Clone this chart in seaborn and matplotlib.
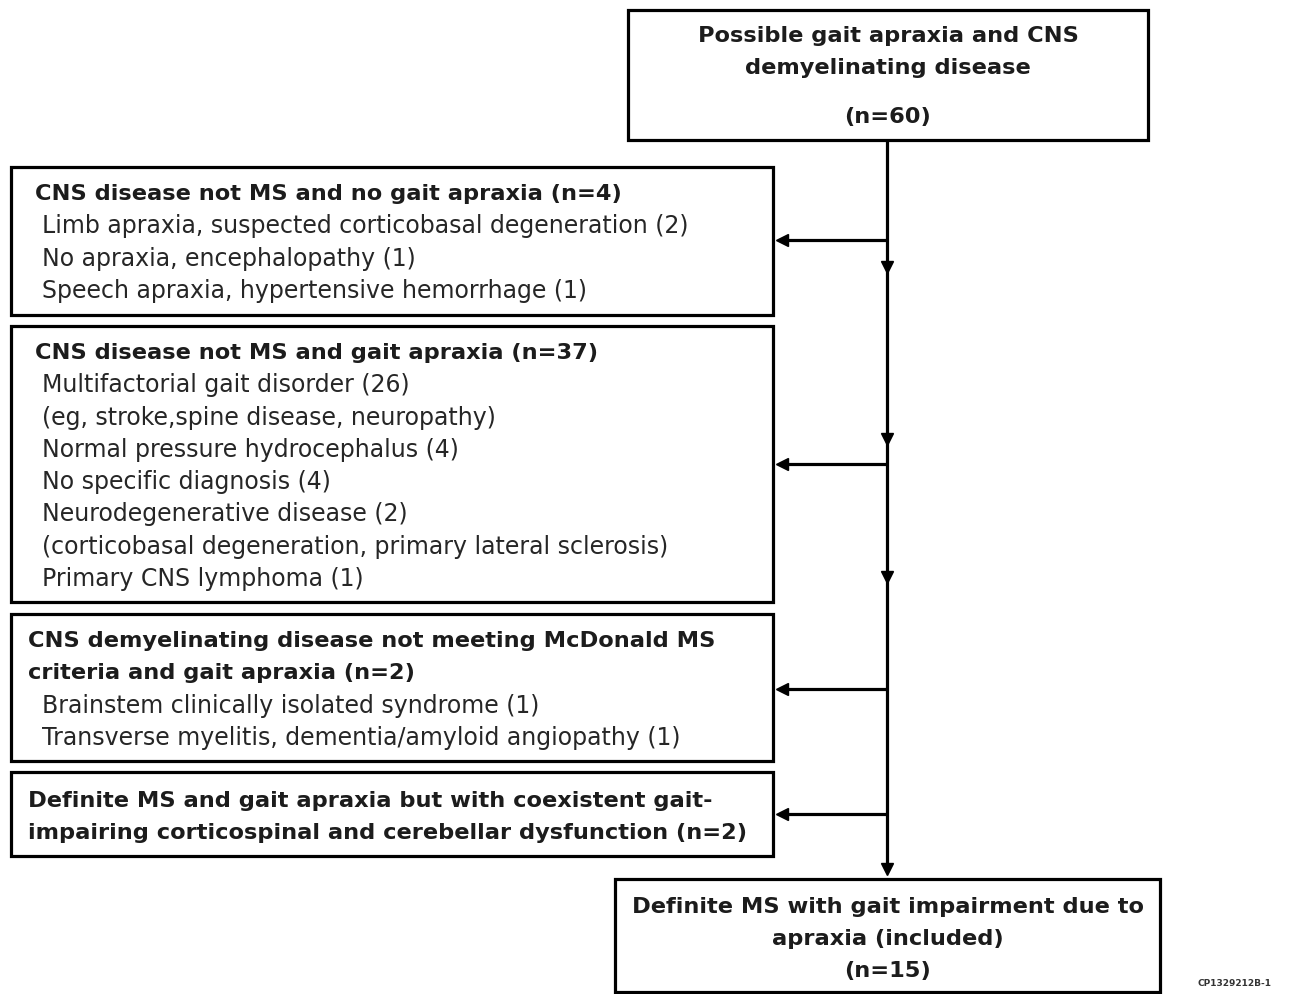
import matplotlib.pyplot as plt
import matplotlib.patches as mpatches
import seaborn as sns

sns.set_theme(style="white")
plt.rcParams['font.family'] = ['DejaVu Sans']

# flowchart content
top_lines = ["Possible gait apraxia and CNS", "demyelinating disease"]
top_n = 60
box1_title = ["CNS disease not MS and no gait apraxia (n=4)"]
box1_items = ["Limb apraxia, suspected corticobasal degeneration (2)",
              "No apraxia, encephalopathy (1)",
              "Speech apraxia, hypertensive hemorrhage (1)"]
box2_title = ["CNS disease not MS and gait apraxia (n=37)"]
box2_items = ["Multifactorial gait disorder (26)",
              "(eg, stroke,spine disease, neuropathy)",
              "Normal pressure hydrocephalus (4)",
              "No specific diagnosis (4)",
              "Neurodegenerative disease (2)",
              "(corticobasal degeneration, primary lateral sclerosis)",
              "Primary CNS lymphoma (1)"]
box3_title = ["CNS demyelinating disease not meeting McDonald MS",
              "criteria and gait apraxia (n=2)"]
box3_items = ["Brainstem clinically isolated syndrome (1)",
              "Transverse myelitis, dementia/amyloid angiopathy (1)"]
box4_title = ["Definite MS and gait apraxia but with coexistent gait-",
              "impairing corticospinal and cerebellar dysfunction (n=2)"]
box4_items = []
bottom_lines = ["Definite MS with gait impairment due to", "apraxia (included)"]
bottom_n = 15
code_label = "CP1329212B-1"

W, H = 1296, 995
fig = plt.figure(figsize=(W / 100, H / 100), dpi=100)
ax = fig.add_axes([0, 0, 1, 1])
ax.set_xlim(0, W)
ax.set_ylim(H, 0)
ax.axis('off')

LW = 2.3
FS = 17.0
FSB = 16.2
TXT = '#1c1c1c'


def rect(x0, y0, x1, y1):
    ax.add_patch(mpatches.Rectangle((x0, y0), x1 - x0, y1 - y0, fill=False,
                                    edgecolor='black', linewidth=LW, zorder=2))


# top box
rect(628, 11, 1148, 141)
ax.text(888, 36, top_lines[0], ha='center', va='center', fontsize=FSB, fontweight='bold', color=TXT)
ax.text(888, 68, top_lines[1], ha='center', va='center', fontsize=FSB, fontweight='bold', color=TXT)
ax.text(888, 117, f"(n={top_n})", ha='center', va='center', fontsize=FSB, fontweight='bold', color=TXT)

# side boxes
side_boxes = [
    (168, 316, box1_title, box1_items, 35, 194, 241),
    (327, 603, box2_title, box2_items, 35, 353, 465),
    (615, 762, box3_title, box3_items, 28, 641, 690),
    (773, 857, box4_title, box4_items, 28, 801, 815),
]
step = 32.3
for y0, y1, title, items, tx, ty, ay in side_boxes:
    rect(11, y0, 773, y1)
    y = ty
    for t in title:
        ax.text(tx, y, t, ha='left', va='center', fontsize=FSB, fontweight='bold', color=TXT)
        y += step
    for it in items:
        ax.text(42, y, it, ha='left', va='center', fontsize=FS, color='#262626')
        y += step
    # branch arrow to the box
    ax.plot([887, 781], [ay, ay], color='black', lw=LW, solid_capstyle='butt', zorder=3)
    ax.plot(782, ay, marker='<', ms=8, color='black', zorder=4)

# main trunk
ax.plot([887, 887], [141, 872], color='black', lw=LW, solid_capstyle='butt', zorder=3)
for yy in [268, 440, 578, 870]:
    ax.plot(887, yy, marker='v', ms=8, color='black', zorder=4)

# bottom box
rect(615, 880, 1160, 993)
ax.text(888, 907, bottom_lines[0], ha='center', va='center', fontsize=FSB, fontweight='bold', color=TXT)
ax.text(888, 939, bottom_lines[1], ha='center', va='center', fontsize=FSB, fontweight='bold', color=TXT)
ax.text(888, 971, f"(n={bottom_n})", ha='center', va='center', fontsize=FSB, fontweight='bold', color=TXT)

ax.text(1235, 984, code_label, ha='center', va='center', fontsize=6.5, fontweight='bold', color='#333333')

fig.savefig('out.png', dpi=100, facecolor='white')
